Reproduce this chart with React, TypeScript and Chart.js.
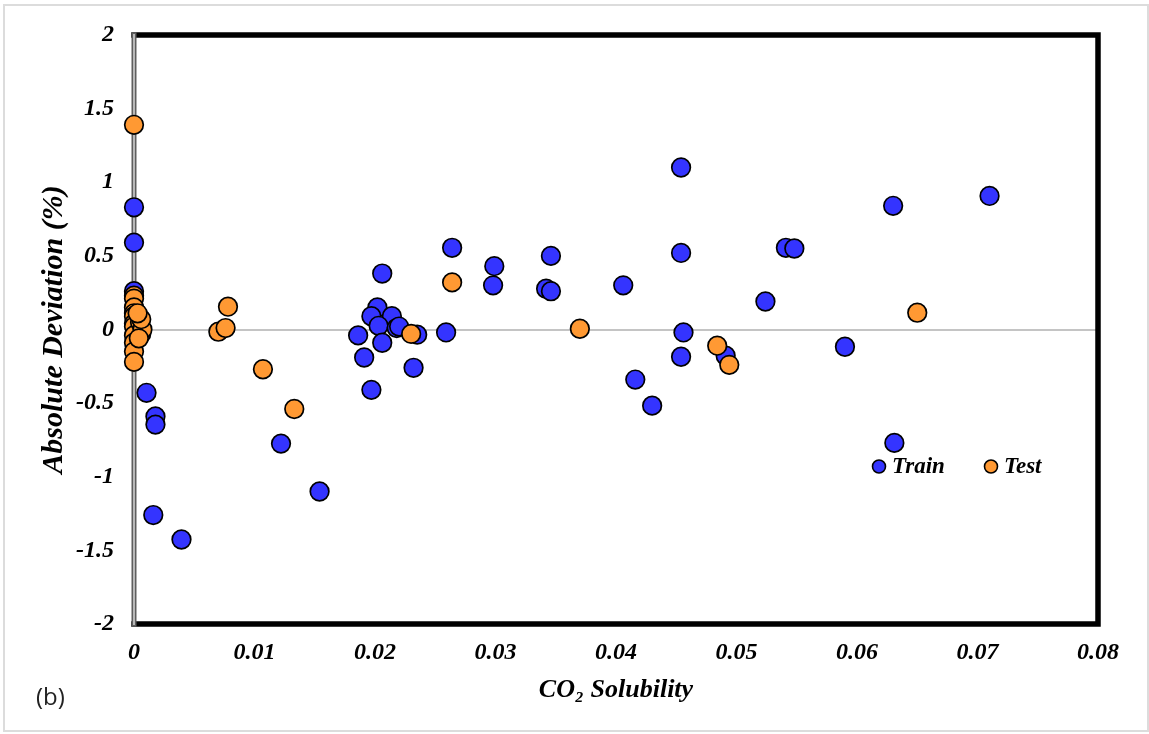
import React, { useEffect, useRef } from "react";
import { Chart, registerables } from "chart.js";

Chart.register(...registerables);

const trainX = [
  0, 0, 0, 0.0004, 0.0005, 0.0006, 0.0004,
  0.00104, 0.00178, 0.00178, 0.0016, 0.00394, 0.0122, 0.0154,
  0.0186, 0.0191, 0.0197, 0.0206, 0.0202, 0.0197, 0.0214, 0.0203, 0.0218, 0.022,
  0.0235, 0.0206, 0.0232, 0.0259, 0.0264, 0.0298, 0.0299, 0.0342, 0.0346, 0.0346,
  0.0406, 0.0416, 0.043, 0.0454, 0.0454, 0.0456, 0.0454, 0.0491, 0.0524, 0.0541,
  0.0548, 0.059, 0.063, 0.0631, 0.071,
];
const trainY = [
  0.83, 0.59, 0.26, 0.05, 0.07, -0.03, 0.02,
  -0.43, -0.59, -0.646, -1.26, -1.426, -0.775, -1.1,
  -0.04, -0.19, -0.41, 0.38, 0.15, 0.09, 0.09, 0.025, 0.01, 0.02,
  -0.035, -0.09, -0.26, -0.02, 0.555, 0.3, 0.43, 0.277, 0.26, 0.5,
  0.3, -0.34, -0.517, 1.1, 0.52, -0.02, -0.185, -0.178, 0.19, 0.555,
  0.55, -0.117, 0.84, -0.77, 0.907,
];

const testX = [
  0, 0, 0, 0, 0, 0, 0, 0, 0, 0, 0, 0, 0.0005, 0.0007, 0.0006, 0.0003, 0.0004,
  0.007, 0.0076, 0.0078, 0.0107, 0.0133, 0.023, 0.0264, 0.037, 0.0484, 0.0494, 0.065,
];
const testY = [
  1.39, 0.23, 0.21, 0.15, 0.11, 0.09, 0.04, 0.02, -0.04, -0.09, -0.15, -0.22, 0.05, 0.0, 0.07, 0.11, -0.06,
  -0.015, 0.01, 0.155, -0.27, -0.54, -0.03, 0.32, 0.005, -0.11, -0.24, 0.114,
];

const seriesNames = ["Train", "Test"];
const seriesColors = ["#3434FF", "#FF9933"];

const xTitle = "CO\u2082 Solubility";
const yTitle = "Absolute Deviation (%)";
const panelLabel = "(b)";

const serif = "'Liberation Serif', 'Times New Roman', serif";

const zip = (xs: number[], ys: number[]) => xs.map((x, i) => ({ x, y: ys[i] }));

const framePlugin = {
  id: "frame",
  beforeDatasetsDraw(chart: any) {
    const { ctx, chartArea: a } = chart;
    ctx.save();
    ctx.strokeStyle = "#000";
    ctx.lineWidth = 5.5;
    ctx.lineJoin = "miter";
    ctx.lineCap = "square";
    ctx.beginPath();
    ctx.moveTo(a.left, a.top);
    ctx.lineTo(a.right, a.top);
    ctx.lineTo(a.right, a.bottom);
    ctx.lineTo(a.left, a.bottom);
    ctx.stroke();
    ctx.fillStyle = "#5e5e5e";
    ctx.fillRect(a.left - 2.5, a.top - 2.75, 5, a.bottom - a.top + 5.5);
    ctx.fillStyle = "#cfcfcf";
    ctx.fillRect(a.left - 0.8, a.top - 1, 1.6, a.bottom - a.top + 2);
    ctx.restore();
  },
  afterDatasetsDraw(chart: any) {
    const { ctx, chartArea: a } = chart;
    const baseX = a.left + 745;
    const baseY = a.top + 431.5;
    const gap = 112;
    ctx.save();
    ctx.font = `italic bold 23px ${serif}`;
    ctx.textBaseline = "middle";
    ctx.textAlign = "left";
    chart.data.datasets.forEach((ds: any, i: number) => {
      const cx = baseX + i * gap;
      ctx.beginPath();
      ctx.arc(cx, baseY, 6.5, 0, Math.PI * 2);
      ctx.fillStyle = ds.backgroundColor;
      ctx.fill();
      ctx.lineWidth = 1.6;
      ctx.strokeStyle = "#000";
      ctx.stroke();
      ctx.fillStyle = "#000";
      ctx.fillText(ds.label, cx + 13, baseY + 1);
    });
    ctx.restore();
  },
};

export default function App() {
  const ref = useRef<HTMLCanvasElement>(null);

  useEffect(() => {
    if (!ref.current) return;
    const chart = new Chart(ref.current, {
      type: "scatter",
      data: {
        datasets: [
          {
            label: seriesNames[0],
            data: zip(trainX, trainY),
            backgroundColor: seriesColors[0],
            borderColor: "#000",
            borderWidth: 1.7,
            pointRadius: 9.3,
            order: 2,
            clip: false,
          },
          {
            label: seriesNames[1],
            data: zip(testX, testY),
            backgroundColor: seriesColors[1],
            borderColor: "#000",
            borderWidth: 1.7,
            pointRadius: 9.3,
            order: 1,
            clip: false,
          },
        ],
      },
      options: {
        animation: false,
        responsive: false,
        devicePixelRatio: 1,
        layout: { padding: { left: 0, top: 35, right: 51, bottom: 28 } },
        plugins: {
          legend: { display: false },
          tooltip: { enabled: false },
        },
        scales: {
          x: {
            type: "linear",
            min: 0,
            max: 0.08,
            afterFit: (s: any) => {
              s.height = 82;
            },
            ticks: {
              stepSize: 0.01,
              padding: 14,
              color: "#000",
              font: { family: serif, size: 24, style: "italic", weight: "bold" },
              callback: (v: any) => (Number(v) === 0 ? "0" : Number(v).toFixed(2)),
            },
            grid: { display: false, drawTicks: false },
            border: { display: false },
            title: {
              display: true,
              text: xTitle,
              color: "#000",
              font: { family: serif, size: 26, style: "italic", weight: "bold" },
              padding: { top: 0, bottom: 0 },
            },
          },
          y: {
            type: "linear",
            min: -2,
            max: 2,
            afterFit: (s: any) => {
              s.width = 134;
            },
            ticks: {
              stepSize: 0.5,
              padding: 20,
              color: "#000",
              font: { family: serif, size: 24, style: "italic", weight: "bold" },
              callback: (v: any) => String(Math.round(Number(v) * 10) / 10),
            },
            grid: {
              drawTicks: false,
              lineWidth: 2,
              color: (c: any) => (c.tick && c.tick.value === 0 ? "#c4c4c4" : "rgba(0,0,0,0)"),
            },
            border: { display: false },
            title: {
              display: true,
              text: yTitle,
              color: "#000",
              font: { family: serif, size: 30, style: "italic", weight: "bold" },
              padding: { top: 36, bottom: 0 },
            },
          },
        },
      },
      plugins: [framePlugin],
    });
    return () => chart.destroy();
  }, []);

  return (
    <div style={{ position: "absolute", left: 0, top: 0, width: 1149, height: 734, background: "#fff" }}>
      <div
        style={{
          position: "absolute",
          left: 3,
          top: 4,
          width: 1142,
          height: 724,
          border: "2px solid #dcdcdc",
        }}
      />
      <canvas ref={ref} width={1149} height={734} style={{ position: "absolute", left: 0, top: 0, width: 1149, height: 734 }} />
      <div
        style={{
          position: "absolute",
          left: 36,
          top: 680,
          fontFamily: "'Open Sans', 'Noto Sans', sans-serif",
          fontSize: 24,
          color: "#222",
          lineHeight: "32px",
        }}
      >
        {panelLabel}
      </div>
    </div>
  );
}
